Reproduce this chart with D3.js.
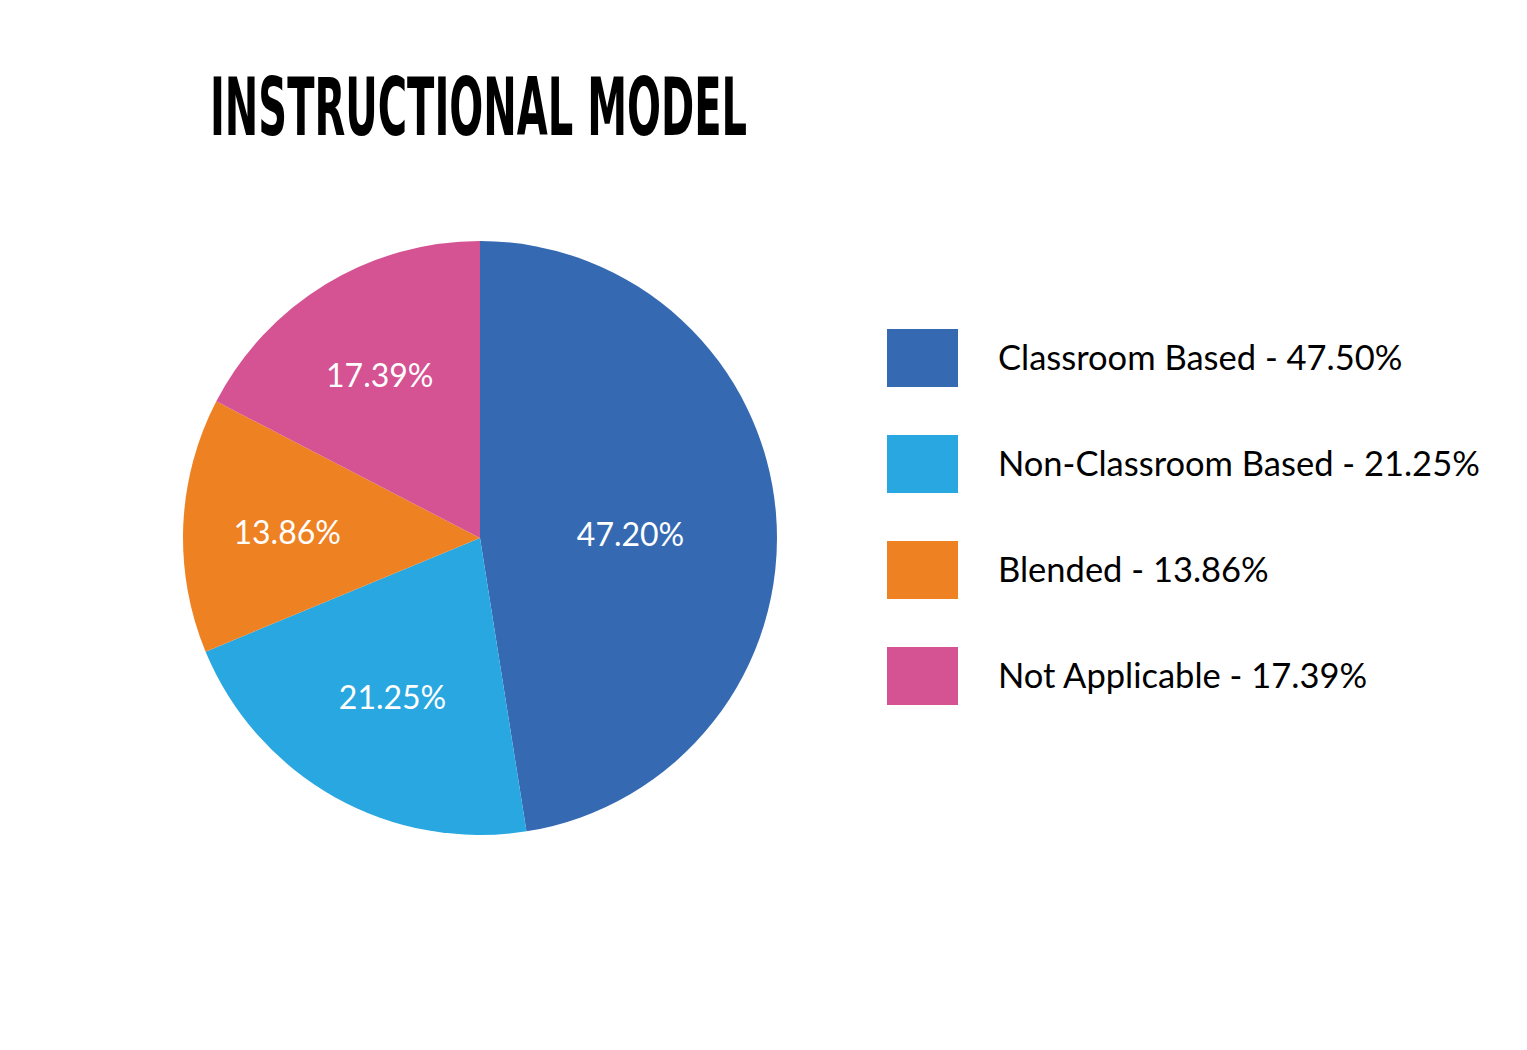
<!DOCTYPE html>
<html>
<head>
<meta charset="utf-8">
<script src="https://cdn.jsdelivr.net/npm/d3@7"></script>
<style>
  html, body { margin: 0; padding: 0; background: #fff; }
  svg { display: block; }
</style>
</head>
<body>
<svg id="chart" width="1527" height="1050"></svg>
<script>
// ---- data ----
const title = "INSTRUCTIONAL MODEL";
const categories = ["Classroom Based", "Non-Classroom Based", "Blended", "Not Applicable"];
const values = [47.50, 21.25, 13.86, 17.39];
const sliceLabels = ["47.20%", "21.25%", "13.86%", "17.39%"];
const legendLabels = ["Classroom Based - 47.50%", "Non-Classroom Based - 21.25%", "Blended - 13.86%", "Not Applicable - 17.39%"];
const colors = ["#356AB3", "#29A7E0", "#EE8122", "#D55293"];

// ---- layout (style constants) ----
const cx = 480, cy = 538, R = 297;
const labelRadius = [151, 179, 193, 193];
const labelNudgeY = [5, 0, 0, 0];

const svg = d3.select("#chart");

// title
svg.append("text")
  .attr("x", 210).attr("y", 135)
  .attr("font-family", "'Liberation Sans Narrow', 'DejaVu Sans Condensed', sans-serif")
  .attr("font-weight", "bold")
  .attr("font-size", 80)
  .attr("textLength", 537)
  .attr("lengthAdjust", "spacingAndGlyphs")
  .attr("fill", "#000")
  .text(title);

// pie
const pie = d3.pie().sort(null).value(d => d)(values);
const arc = d3.arc().innerRadius(0).outerRadius(R);
const g = svg.append("g").attr("transform", `translate(${cx},${cy})`);

g.selectAll("path.slice").data(pie).join("path")
  .attr("class", "slice")
  .attr("d", arc)
  .attr("fill", (d, i) => colors[i]);

g.selectAll("text.lbl").data(pie).join("text")
  .attr("class", "lbl")
  .attr("transform", (d, i) => {
    const c = d3.arc().innerRadius(labelRadius[i]).outerRadius(labelRadius[i]).centroid(d);
    return `translate(${c[0]},${c[1] + labelNudgeY[i]})`;
  })
  .attr("text-anchor", "middle")
  .attr("dy", "0.45em")
  .attr("font-family", "Lato, 'Open Sans', sans-serif")
  .attr("font-size", 32)
  .attr("fill", "#fff")
  .text((d, i) => sliceLabels[i]);

// legend
const legend = svg.append("g");
const lg = legend.selectAll("g").data(categories).join("g")
  .attr("transform", (d, i) => `translate(887, ${329 + i * 106})`);
lg.append("rect").attr("width", 71).attr("height", 58).attr("fill", (d, i) => colors[i]);
lg.append("text")
  .attr("x", 111).attr("y", 29)
  .attr("dy", "0.36em")
  .attr("font-family", "Lato, 'Open Sans', sans-serif")
  .attr("font-size", 34.5)
  .attr("fill", "#000")
  .text((d, i) => legendLabels[i]);
</script>
</body>
</html>
